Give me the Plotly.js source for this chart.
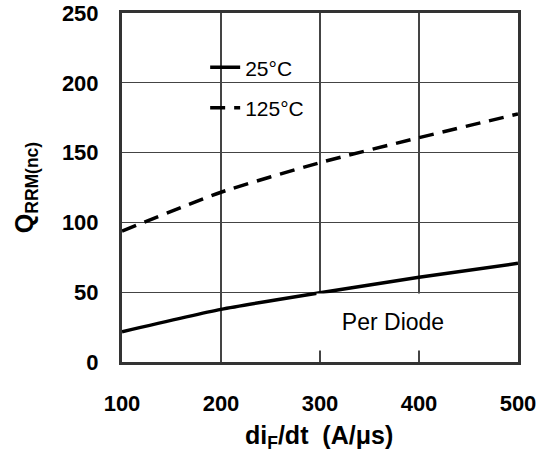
<!DOCTYPE html>
<html>
<head>
<meta charset="utf-8">
<script src="https://cdn.plot.ly/plotly-3.0.1.min.js"></script>
<style>html,body{margin:0;padding:0;background:#fff;}#chart{width:542px;height:459px;}</style>
</head>
<body>
<div id="chart"></div>
<script>
const diF = [100, 200, 300, 400, 500];
const q25 = [21.7, 37.7, 49.6, 60.7, 70.7];
const q125 = [93.8, 121.6, 142.8, 160.7, 177.7];
const xTicks = [100, 200, 300, 400, 500];
const yTicks = [0, 50, 100, 150, 200, 250];
const seriesNames = ['25°C', '125°C'];

const FONT = 'Arial, "Liberation Sans", sans-serif';

const traces = [
  {x: diF, y: q25, name: seriesNames[0], type: 'scatter', mode: 'lines',
   line: {color: '#000', width: 3.5, shape: 'spline', smoothing: 0.6}, legendgroup: 'a'},
  {x: diF, y: q125, name: seriesNames[1], type: 'scatter', mode: 'lines',
   line: {color: '#000', width: 3.5, dash: '15px,9px', shape: 'spline', smoothing: 0.6}, legendgroup: 'b'}
];

const layout = {
  width: 542, height: 459,
  margin: {l: 122, r: 24, t: 13, b: 97},
  paper_bgcolor: '#fff', plot_bgcolor: '#fff',
  font: {family: FONT, color: '#000'},
  showlegend: true,
  legend: {x: 0.21, y: 0.902, xanchor: 'left', yanchor: 'top',
    bgcolor: 'rgba(0,0,0,0)', borderwidth: 0, tracegroupgap: 10,
    font: {family: FONT, size: 21, color: '#000'}},
  xaxis: {range: [100, 500], tickvals: xTicks, ticks: '', showgrid: true,
    gridcolor: '#444', gridwidth: 1.3, showline: true, mirror: true,
    linecolor: '#333', linewidth: 3, zeroline: false, ticklabelstandoff: 20,
    tickfont: {family: FONT, size: 22, weight: 'bold', color: '#000'}, fixedrange: true},
  yaxis: {range: [0, 250], tickvals: yTicks, ticks: '', showgrid: true,
    gridcolor: '#444', gridwidth: 1.3, showline: true, mirror: true,
    linecolor: '#333', linewidth: 3, zeroline: false, ticklabelstandoff: 16,
    tickfont: {family: FONT, size: 22, weight: 'bold', color: '#000'}, fixedrange: true,
    title: {text: 'Q<sub>RRM(nc)</sub>', standoff: 22,
      font: {family: FONT, size: 25, weight: 'bold', color: '#000'}}},
  shapes: [
    {type: 'rect', xref: 'paper', yref: 'paper', x0: 0.139, x1: 0.495, y0: 0.67, y1: 0.903,
     fillcolor: '#fff', line: {width: 0}, layer: 'between'}
  ],
  annotations: [
    {text: 'Per Diode', xref: 'x', yref: 'y', x: 374, y: 28.7, showarrow: false,
     font: {family: FONT, size: 23, color: '#000'}, bgcolor: '#fff', width: 150, height: 54, borderpad: 1},
    {text: 'di<sub>F</sub>/dt\u00A0\u00A0(A/μs)', xref: 'paper', yref: 'paper',
     x: 0.497, y: -0.215, xanchor: 'center', yanchor: 'middle', showarrow: false,
     font: {family: FONT, size: 25, weight: 'bold', color: '#000'}}
  ]
};

Plotly.newPlot('chart', traces, layout, {displayModeBar: false, staticPlot: true});
</script>
</body>
</html>
